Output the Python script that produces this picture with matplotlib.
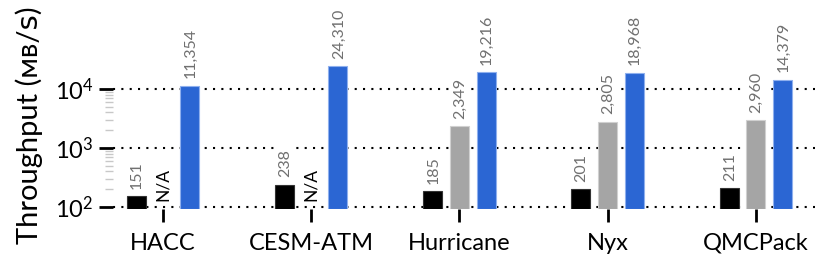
import numpy as np
import matplotlib
matplotlib.use("Agg")
import matplotlib.pyplot as plt
from matplotlib.ticker import FixedLocator, NullFormatter

categories = ["HACC", "CESM-ATM", "Hurricane", "Nyx", "QMCPack"]
series_black = [151, 238, 185, 201, 211]
series_gray = [None, None, 2349, 2805, 2960]
series_blue = [11354, 24310, 19216, 18968, 14379]
major_ticks = [1e2, 1e3, 1e4]

plt.rcParams['font.family'] = ['Lato', 'DejaVu Sans']
plt.rcParams['mathtext.fontset'] = 'custom'
plt.rcParams['mathtext.rm'] = 'Lato'
plt.rcParams['mathtext.it'] = 'Lato:italic'
plt.rcParams['mathtext.bf'] = 'Lato:bold'

fig = plt.figure(figsize=(8.29, 2.72), dpi=100)
ax = fig.add_axes([113/829, 63/272, (815-113)/829, 209/272])

x = np.arange(len(categories))
w = 0.128
off = 0.18
ybot = 10**1.966
ytop = 10**(1.966 + 209/59)

colors = ["#000000", "#a5a5a5", "#2b66d3"]
edges = ["#333333", "#d0d0d0", "#8fb0ee"]
for k, (vals, c, ec) in enumerate(zip([series_black, series_gray, series_blue], colors, edges)):
    xs = x + (k - 1) * off
    for xi, v in zip(xs, vals):
        if v is None:
            ax.text(xi, 10**2.1, "N/A", rotation=90, ha="center", va="bottom",
                    fontsize=12.5, color="black", zorder=4,
                    bbox=dict(boxstyle="square,pad=0.15", fc="white", ec="none"))
            continue
        ax.bar(xi, v - ybot, bottom=ybot, width=w, color=c, edgecolor=ec, linewidth=0.8, zorder=3)
        ax.text(xi + 0.005, v * 1.33, f"{v:,}", rotation=90, ha="center", va="bottom",
                fontsize=11.5, color="#707070", zorder=4,
                bbox=dict(boxstyle="square,pad=0.2", fc="white", ec="none"))

ax.set_yscale("log")
ax.set_ylim(ybot, ytop)
ax.set_xlim(-0.338, 4.40)
ax.yaxis.set_major_locator(FixedLocator(major_ticks))
minor = [m * 10**e for e in (2, 3) for m in range(2, 10)]
ax.yaxis.set_minor_locator(FixedLocator(minor))
ax.yaxis.set_minor_formatter(NullFormatter())
ax.set_yticklabels([r"$10^{%d}$" % int(np.log10(t)) for t in major_ticks])
ax.tick_params(axis="y", which="major", length=10, width=2, color="black",
               labelsize=17, pad=4)
ax.tick_params(axis="y", which="minor", length=6, width=1, color="#c8c8c8")
ax.set_xticks(x)
ax.set_xticklabels(categories)
ax.tick_params(axis="x", length=9, width=2, color="black", labelsize=17, pad=8)
for s in ax.spines.values():
    s.set_visible(False)
ax.grid(axis="y", which="major", linestyle=(0, (1, 3)), color="black", linewidth=1.5, zorder=0)
ax.set_axisbelow(True)
ax.set_ylabel("Throughput (ᴍʙ/ꜱ)", fontsize=21)
ax.yaxis.set_label_coords(-0.10, 0.40)

fig.savefig("out.png", dpi=100)
